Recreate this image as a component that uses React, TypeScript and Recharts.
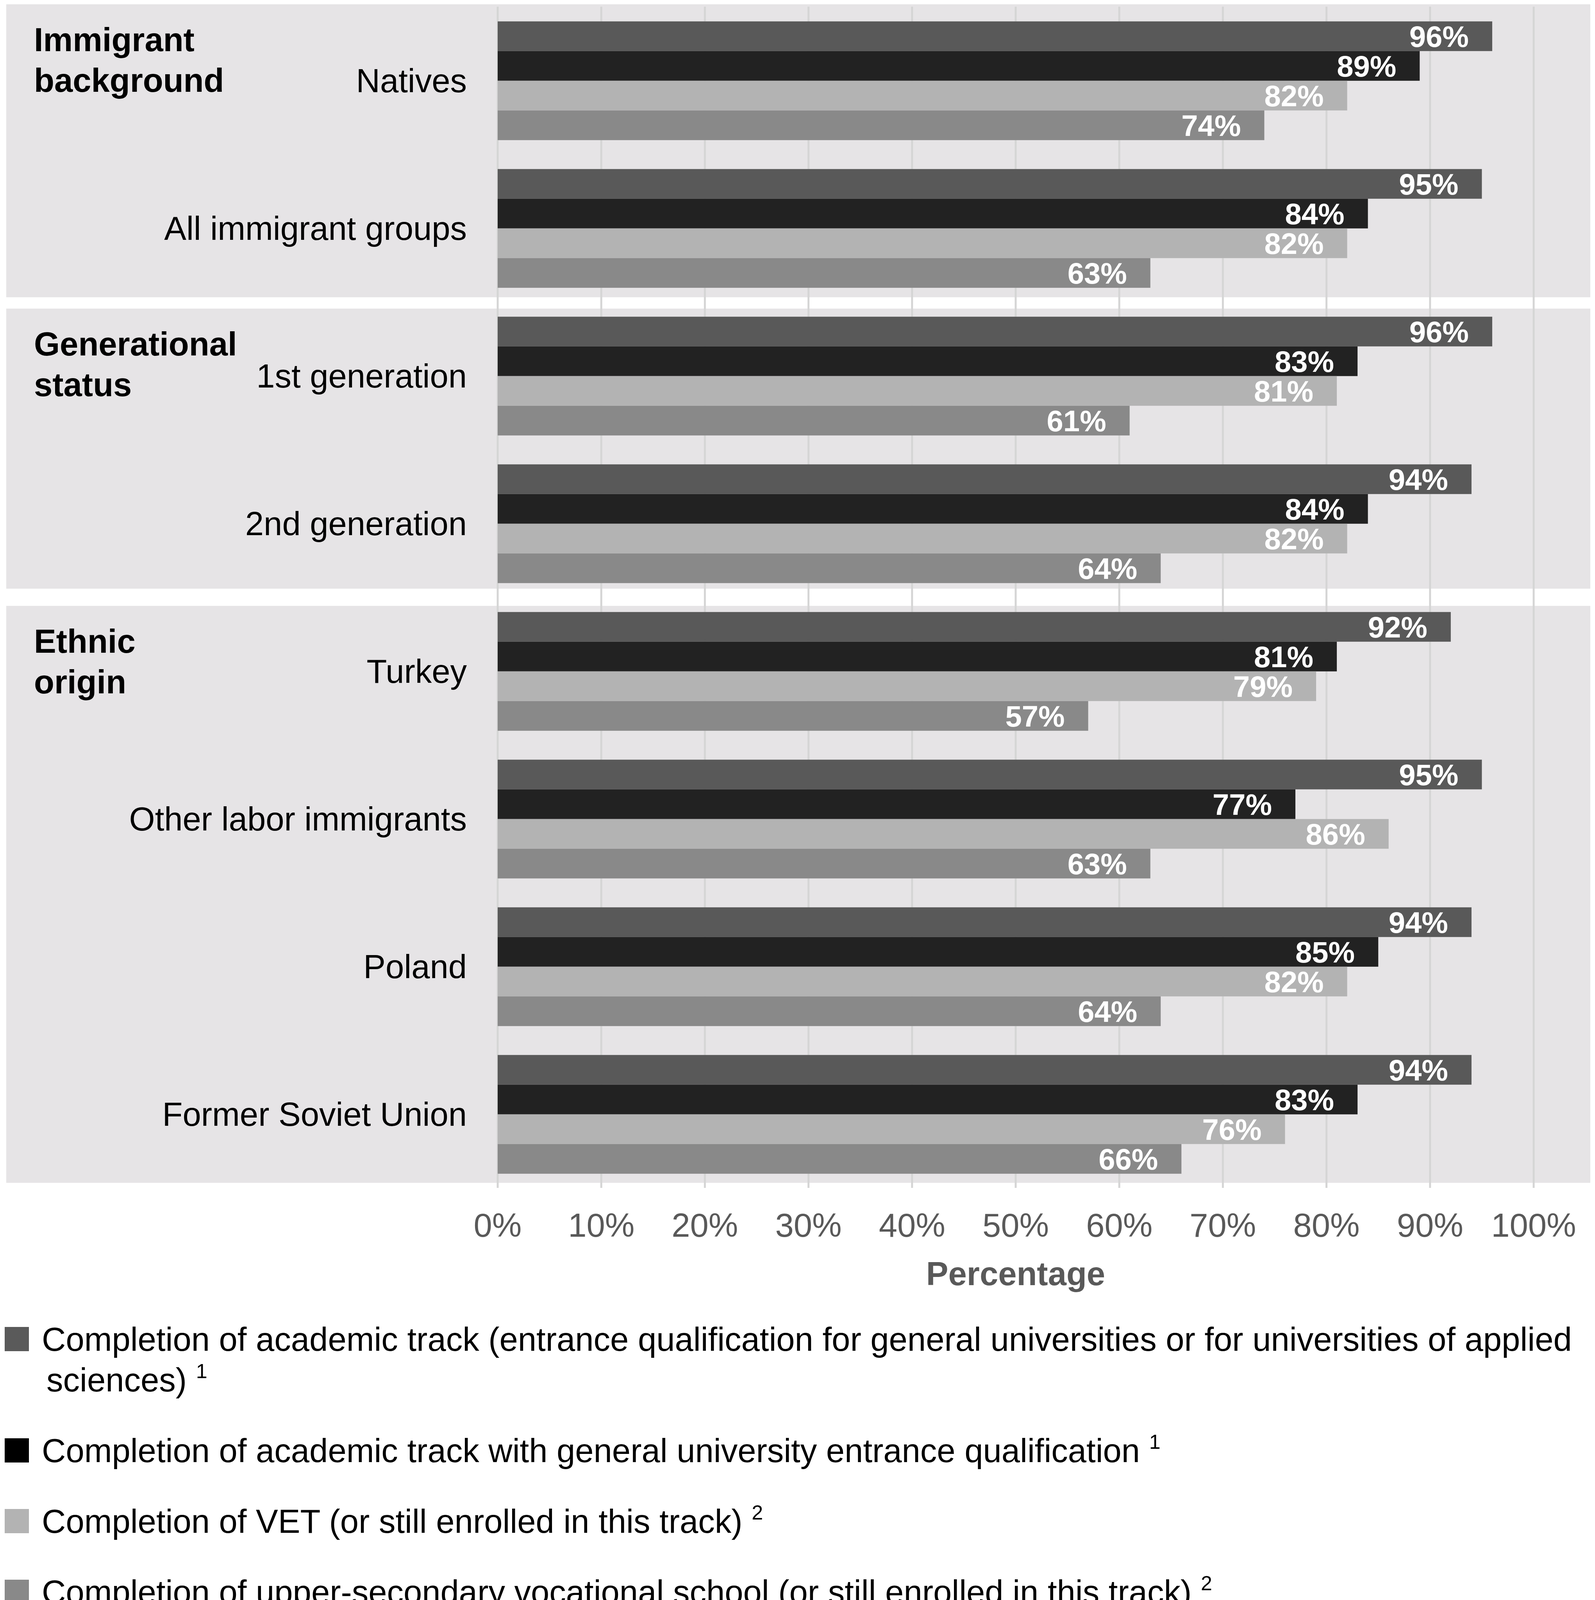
import React from 'react'
import { BarChart, Bar, XAxis, YAxis, CartesianGrid, ReferenceArea, LabelList, Legend } from 'recharts'

const categories = [
  'Natives',
  'All immigrant groups',
  '1st generation',
  '2nd generation',
  'Turkey',
  'Other labor immigrants',
  'Poland',
  'Former Soviet Union',
]
const academicAny = [96, 95, 96, 94, 92, 95, 94, 94]
const academicGeneral = [89, 84, 83, 84, 81, 77, 85, 83]
const vetTrack = [82, 82, 81, 82, 79, 86, 82, 76]
const vocationalSchool = [74, 63, 61, 64, 57, 63, 64, 66]

const xTicks = [0, 10, 20, 30, 40, 50, 60, 70, 80, 90, 100]

const groupTitles = [['Immigrant', 'background'], ['Generational', 'status'], ['Ethnic', 'origin']]
const groupFirst = ['Natives', '1st generation', 'Turkey']
const groupLast = ['All immigrant groups', '2nd generation', 'Former Soviet Union']

const seriesNames = [
  'Completion of academic track (entrance qualification for general universities or for universities of applied sciences)',
  'Completion of academic track with general university entrance qualification',
  'Completion of VET (or still enrolled in this track)',
  'Completion of upper-secondary vocational school (or still enrolled in this track)',
]
const seriesNotes = ['1', '1', '2', '2']

const series = [
  { key: 'academicAny', values: academicAny, color: '#595959', swatch: '#5a5a5a' },
  { key: 'academicGeneral', values: academicGeneral, color: '#222222', swatch: '#000000' },
  { key: 'vetTrack', values: vetTrack, color: '#b3b3b3', swatch: '#b3b3b3' },
  { key: 'vocationalSchool', values: vocationalSchool, color: '#898989', swatch: '#898989' },
]

const data = categories.map((name, i) => {
  const row: Record<string, string | number> = { name }
  series.forEach(s => { row[s.key] = s.values[i] })
  return row
})

const FONT = '"Liberation Sans", Arial, sans-serif'
const W = 4083
const H = 4137

// panel background reaches past the plot area on both sides
const PANEL_LEFT = 1258
const PANEL_RIGHT = 145
const TITLE_LEFT = 1187
const PANEL_INSETS = [[-6, 12], [17, 22], [22, 13]]

function panelShape(i: number) {
  return (props: any) => {
    const { x, y, width, height } = props
    const [topIn, botIn] = PANEL_INSETS[i]
    const top = y + topIn
    return (
      <g>
        <rect x={x - PANEL_LEFT} y={top} width={width + PANEL_LEFT + PANEL_RIGHT} height={height - topIn - botIn} fill="#e6e4e6" />
        {groupTitles[i].map((line, j) => (
          <text key={j} x={x - TITLE_LEFT} y={top + 120 + j * 104} fontSize={85} fontWeight="bold" fill="#000" fontFamily={FONT}>
            {line}
          </text>
        ))}
      </g>
    )
  }
}

function renderLegend() {
  return (
    <div style={{ width: W, height: 760, fontFamily: FONT, fontSize: 85, lineHeight: '104px', color: '#000' }}>
      {series.map((s, i) => (
        <div key={s.key} style={{ position: 'relative', paddingLeft: 119, textIndent: -12, marginBottom: 77 }}>
          <span style={{ position: 'absolute', left: 12, top: 20, width: 62, height: 62, background: s.swatch }} />
          {seriesNames[i]}{' '}
          <span style={{ position: 'relative', top: -34, fontSize: 52, lineHeight: 0 }}>{seriesNotes[i]}</span>
        </div>
      ))}
    </div>
  )
}

export default function App() {
  return (
    <div style={{ width: W, height: H, fontFamily: FONT, overflow: 'hidden' }}>
      <style>{'body{margin:0}'}</style>
      <BarChart
        width={W}
        height={H}
        data={data}
        layout="vertical"
        margin={{ top: 17, right: 157, bottom: 0, left: 0 }}
        barCategoryGap="10%"
        barGap={0}
        style={{ fontFamily: FONT }}
      >
        {groupFirst.map((first, i) => (
          <ReferenceArea key={first} y1={first} y2={groupLast[i]} shape={panelShape(i)} zIndex={-200} ifOverflow="visible" />
        ))}
        <CartesianGrid horizontal={false} stroke="#d5d5d5" strokeWidth={5} />
        <XAxis
          type="number"
          domain={[0, 100]}
          ticks={xTicks}
          tickFormatter={(v: number) => `${v}%`}
          axisLine={false}
          tickLine={false}
          tickSize={0}
          tickMargin={65}
          height={336}
          tick={{ fill: '#595959', fontSize: 85, fontFamily: FONT }}
          label={{ value: 'Percentage', position: 'insideTop', offset: 189, fill: '#595959', fontSize: 85, fontWeight: 'bold', fontFamily: FONT }}
        />
        <YAxis
          type="category"
          dataKey="name"
          width={1274}
          axisLine={false}
          tickLine={false}
          tickSize={0}
          tickMargin={79}
          tick={{ fill: '#000', fontSize: 85, fontFamily: FONT }}
        />
        {series.map((s, i) => (
          <Bar key={s.key} dataKey={s.key} name={seriesNames[i]} fill={s.color} isAnimationActive={false}>
            <LabelList
              dataKey={s.key}
              position="insideRight"
              offset={60}
              fill="#fff"
              fontSize={76}
              fontWeight="bold"
              fontFamily={FONT}
              formatter={(v: any) => `${v}%`}
            />
          </Bar>
        ))}
        <Legend verticalAlign="bottom" align="left" wrapperStyle={{ left: 0, bottom: 0, width: W }} content={renderLegend} />
      </BarChart>
    </div>
  )
}
